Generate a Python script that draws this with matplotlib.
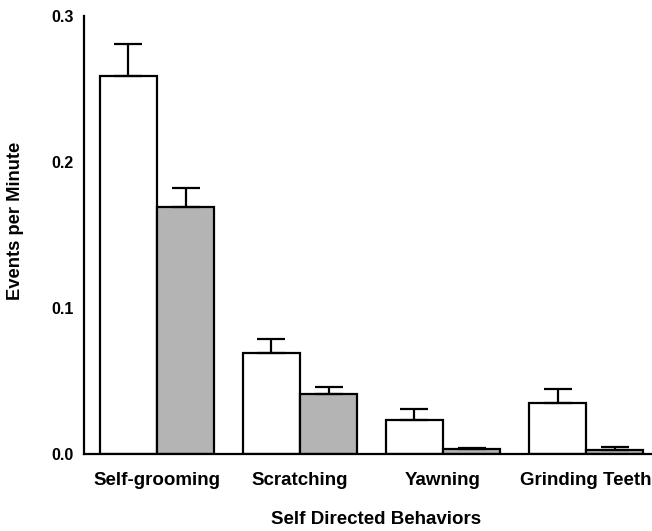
import matplotlib
matplotlib.use("Agg")
import matplotlib.pyplot as plt
import numpy as np

categories = ["Self-grooming", "Scratching", "Yawning", "Grinding Teeth"]
open_vals = [0.259, 0.069, 0.0235, 0.035]
open_err = [0.0215, 0.0096, 0.0073, 0.0096]
shaded_vals = [0.169, 0.041, 0.0032, 0.003]
shaded_err = [0.013, 0.0048, 0.0010, 0.0015]
yticks = [0.0, 0.1, 0.2, 0.3]
ytick_labels = ["0.0", "0.1", "0.2", "0.3"]

plt.rcParams["font.family"] = ["Liberation Sans", "DejaVu Sans"]
plt.rcParams["font.weight"] = "bold"

W, H = 652, 531
fig = plt.figure(figsize=(W / 100, H / 100), dpi=100)
ax = fig.add_axes([84 / W, 77 / H, 568 / W, 438 / H])

x = np.arange(len(categories))
bw = 0.40
lw = 1.6

ax.bar(x - bw / 2, open_vals, width=bw, color="white", edgecolor="black",
       linewidth=lw, zorder=2)
ax.bar(x + bw / 2, shaded_vals, width=bw, color="#b4b4b4", edgecolor="black",
       linewidth=lw, zorder=2)

ax.errorbar(x - bw / 2, open_vals, yerr=[np.zeros(len(x)), open_err],
            fmt="none", ecolor="black", elinewidth=lw, capsize=10.4,
            capthick=lw, zorder=3)
ax.errorbar(x + bw / 2, shaded_vals, yerr=[np.zeros(len(x)), shaded_err],
            fmt="none", ecolor="black", elinewidth=lw, capsize=10.4,
            capthick=lw, zorder=3)

ax.set_xlim(-0.51, 3.46)
ax.set_ylim(0, 0.3)
ax.set_xticks(x)
ax.set_xticklabels(categories, fontsize=13.5, fontweight="bold")
ax.set_yticks(yticks)
ax.set_yticklabels(ytick_labels, fontsize=11.5, fontweight="bold")
ax.tick_params(axis="x", length=0, pad=13)
ax.tick_params(axis="y", length=0, pad=7.5)

for side in ("top", "right"):
    ax.spines[side].set_visible(False)
for side in ("left", "bottom"):
    ax.spines[side].set_linewidth(1.6)

fig.text(376 / W, 1 - 520 / H, "Self Directed Behaviors", ha="center",
         va="center", fontsize=13.5, fontweight="bold")
fig.text(16 / W, 1 - 221 / H, "Events per Minute", ha="center",
         va="center", rotation=90, fontsize=13.2, fontweight="bold")

fig.savefig("out.png", dpi=100)
